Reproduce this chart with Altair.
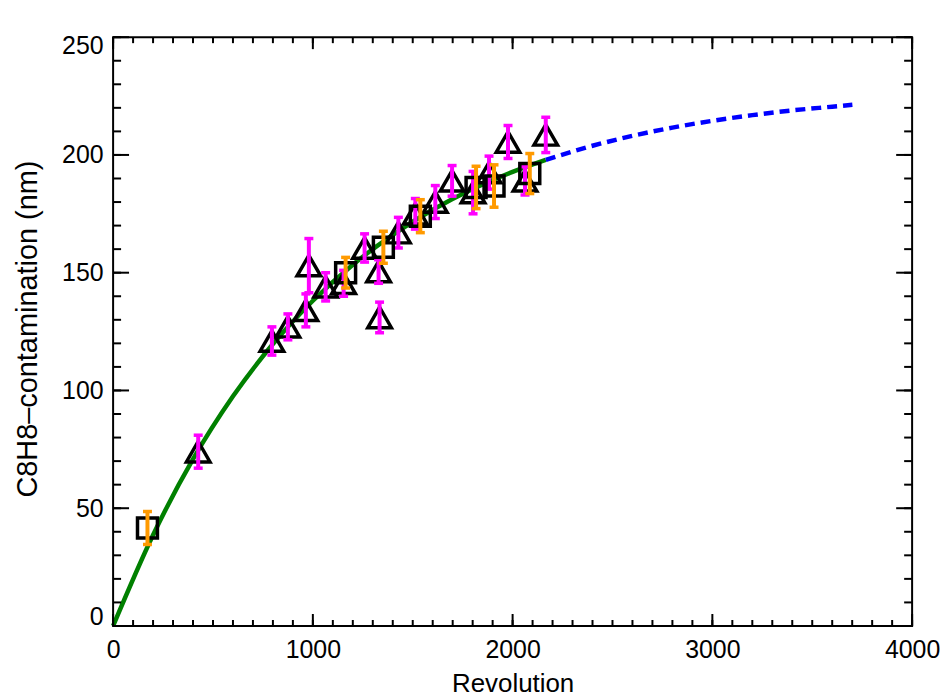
import altair as alt
import pandas as pd

# ---- data ----
tri_x = [426, 795, 875, 965, 980, 1064, 1154, 1259, 1329, 1334, 1428, 1513,
         1613, 1697, 1802, 1882, 1977, 2062, 2166]
tri_y = [74, 121, 127, 134, 153, 144, 145.5, 160.5, 150.5, 131, 167, 175,
         180, 189, 184, 192.5, 205.5, 189, 208.5]
tri_err = [7, 6, 5.5, 7, 11.5, 6, 5.5, 6, 5, 6.5, 6.5, 6.5,
           7, 6.5, 9, 7, 7, 6, 7.5]

sq_x = [172, 1164, 1353, 1538, 1817, 1907, 2086]
sq_y = [41.6, 150, 160.8, 174, 186.2, 186.8, 192.1]
sq_err = [7, 6.5, 6.8, 7, 9, 9, 8.5]

fit_x = [0, 200, 400, 600, 800, 1000, 1200, 1400, 1600, 1800, 2000, 2166]
fit_y = [0, 38.6, 70.8, 97.5, 119.7, 138.1, 153.4, 166.1, 176.7, 185.5, 192.8, 197.9]

ext_x = [2166, 2400, 2600, 2800, 3000, 3200, 3400, 3600, 3701]
ext_y = [197.9, 203.9, 208.1, 211.6, 214.5, 216.9, 218.9, 220.5, 221.3]

x_major = [0, 1000, 2000, 3000, 4000]
x_minor = list(range(0, 4001, 100))
y_major = [0, 50, 100, 150, 200, 250]
y_minor = list(range(0, 251, 10))

# ---- layout ----
W, H = 802, 591
FONT = "Liberation Sans"

tri = pd.DataFrame({"x": tri_x, "y": tri_y, "err": tri_err})
tri["lo"] = tri["y"] - tri["err"]
tri["hi"] = tri["y"] + tri["err"]
sq = pd.DataFrame({"x": sq_x, "y": sq_y, "err": sq_err})
sq["lo"] = sq["y"] - sq["err"]
sq["hi"] = sq["y"] + sq["err"]
fit = pd.DataFrame({"x": fit_x, "y": fit_y})
ext = pd.DataFrame({"x": ext_x, "y": ext_y})

xs = alt.Scale(domain=[0, 4000], nice=False, zero=False)
ys = alt.Scale(domain=[0, 250], nice=False, zero=False)

x_axis = alt.Axis(values=x_major, format="d", title="Revolution", grid=False,
                  ticks=False, domain=False, labelFont=FONT, labelFontSize=25,
                  labelColor="black", labelPadding=12, labelFlush=False,
                  titleFont=FONT, titleFontSize=26,
                  titleFontWeight="normal", titleColor="black",
                  titleBaseline="alphabetic", titleY=66, titleX=W / 2)
y_axis = alt.Axis(values=y_major, format="d", title="C8H8–contamination (nm)",
                  grid=False, ticks=False, domain=False, labelFont=FONT,
                  labelFontSize=25, labelColor="black", labelPadding=10,
                  labelFlush=True, labelFlushOffset=4,
                  titleFont=FONT, titleFontSize=29,
                  titleFontWeight="normal", titleColor="black", titleAngle=270,
                  titleAlign="center", titleBaseline="alphabetic",
                  titleX=-76.5, titleY=H / 2 - 3)


def X(f="x"):
    return alt.X(f"{f}:Q", scale=xs, axis=x_axis)


def Y(f="y"):
    return alt.Y(f"{f}:Q", scale=ys, axis=y_axis)


fit_line = alt.Chart(fit).mark_line(color="#008000", strokeWidth=4.5,
                                    interpolate="monotone").encode(x=X(), y=Y())
ext_line = alt.Chart(ext).mark_line(color="#0000FF", strokeWidth=4.5,
                                    strokeDash=[10, 6],
                                    interpolate="monotone").encode(x=X(), y=Y())

tri_pts = alt.Chart(tri).mark_point(shape="triangle-up", size=560, filled=False,
                                    color="black", strokeWidth=3.5, opacity=1).encode(
    x=X(), y=Y())
tri_bar = alt.Chart(tri).mark_rule(color="#FF00FF", strokeWidth=4).encode(
    x=X(), y=Y("lo"), y2="hi:Q")
tri_cap_lo = alt.Chart(tri).mark_tick(color="#FF00FF", orient="horizontal",
                                      size=9, thickness=3.5, opacity=1).encode(
    x=X(), y=Y("lo"))
tri_cap_hi = alt.Chart(tri).mark_tick(color="#FF00FF", orient="horizontal",
                                      size=9, thickness=3.5, opacity=1).encode(
    x=X(), y=Y("hi"))

sq_pts = alt.Chart(sq).mark_point(shape="square", size=400, filled=False,
                                  color="black", strokeWidth=3.5, opacity=1).encode(
    x=X(), y=Y())
sq_bar = alt.Chart(sq).mark_rule(color="#FF9A00", strokeWidth=4).encode(
    x=X(), y=Y("lo"), y2="hi:Q")
sq_cap_lo = alt.Chart(sq).mark_tick(color="#FF9A00", orient="horizontal",
                                    size=9, thickness=3.5, opacity=1).encode(
    x=X(), y=Y("lo"))
sq_cap_hi = alt.Chart(sq).mark_tick(color="#FF9A00", orient="horizontal",
                                    size=9, thickness=3.5, opacity=1).encode(
    x=X(), y=Y("hi"))

# ---- inward ticks on all four sides ----
xmaj = pd.DataFrame({"v": x_major})
xmin = pd.DataFrame({"v": x_minor})
ymaj = pd.DataFrame({"v": y_major})
ymin = pd.DataFrame({"v": y_minor})


def xticks(df, length):
    bot = alt.Chart(df).mark_rule(color="black", strokeWidth=2).encode(
        x=X("v"), y=alt.value(H), y2=alt.value(H - length))
    top = alt.Chart(df).mark_rule(color="black", strokeWidth=2).encode(
        x=X("v"), y=alt.value(0), y2=alt.value(length))
    return [bot, top]


def yticks(df, length):
    left = alt.Chart(df).mark_rule(color="black", strokeWidth=2).encode(
        y=Y("v"), x=alt.value(0), x2=alt.value(length))
    right = alt.Chart(df).mark_rule(color="black", strokeWidth=2).encode(
        y=Y("v"), x=alt.value(W), x2=alt.value(W - length))
    return [left, right]


ticks = xticks(xmaj, 12) + xticks(xmin, 6) + yticks(ymaj, 16) + yticks(ymin, 8)

chart = alt.layer(
    fit_line, ext_line,
    tri_pts, tri_bar, tri_cap_lo, tri_cap_hi,
    sq_pts, sq_bar, sq_cap_lo, sq_cap_hi,
    *ticks,
).properties(
    width=W, height=H,
    autosize=alt.AutoSizeParams(type="none"),
    padding={"left": 105.5, "top": 28, "right": 30, "bottom": 70},
    background="white",
).configure_view(stroke="black", strokeWidth=2)

chart.save("out.html", embed_options={"renderer": "svg", "actions": False})
